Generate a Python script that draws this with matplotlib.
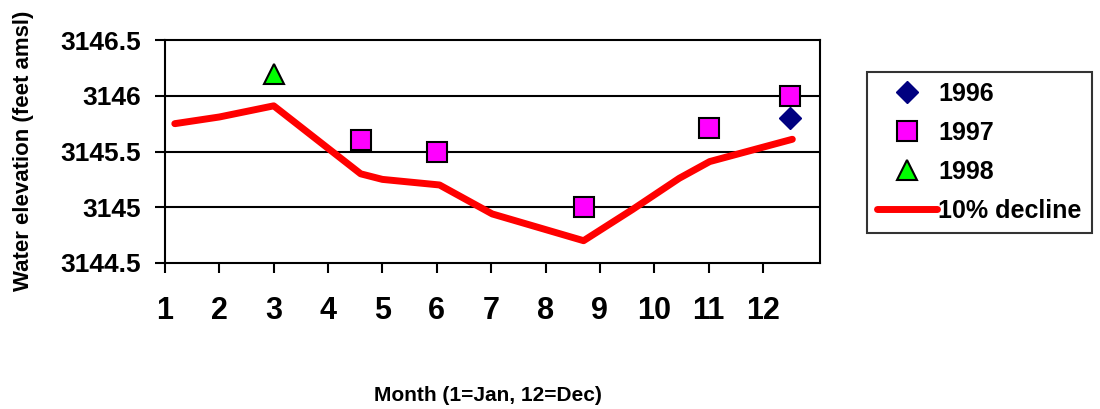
import matplotlib.pyplot as plt

# 10% decline curve (month, elevation)
decline_month = [1.18, 2.0, 3.0, 4.6, 5.0, 6.05, 7.02, 8.7, 9.6, 10.46, 11.02, 12.54]
decline_elev = [3145.75, 3145.81, 3145.91, 3145.30, 3145.25, 3145.20, 3144.94,
                3144.70, 3144.98, 3145.26, 3145.41, 3145.61]

# observations
month_1996 = [12.5]
elev_1996 = [3145.80]
month_1997 = [4.6, 6.0, 8.7, 11.0, 12.5]
elev_1997 = [3145.60, 3145.50, 3145.00, 3145.71, 3146.00]
month_1998 = [3.0]
elev_1998 = [3146.20]

xticks = list(range(1, 13))
yticks = [3144.5, 3145, 3145.5, 3146, 3146.5]
ytick_labels = ['3144.5', '3145', '3145.5', '3146', '3146.5']

plt.rcParams['font.family'] = ['Liberation Sans', 'DejaVu Sans']
plt.rcParams['font.weight'] = 'bold'

fig = plt.figure(figsize=(11, 4.09), dpi=100)
ax = fig.add_axes([0.15, 0.357, 0.5955, 0.545])

for y in [3145, 3145.5, 3146]:
	ax.axhline(y, color='black', lw=1.5, zorder=1)

ax.plot(month_1996, elev_1996, 'D', color='#000080', ms=11, mec='#000080',
	ls='none', label='1996', zorder=4)
ax.plot(month_1997, elev_1997, 's', color='#FF00FF', ms=14, mec='black',
	mew=1.5, ls='none', label='1997', zorder=4)
ax.plot(month_1998, elev_1998, '^', color='#00FF00', ms=14, mec='black',
	mew=1.5, ls='none', label='1998', zorder=4)
ax.plot(decline_month, decline_elev, color='#FF0000', lw=5, label='10% decline',
	zorder=3, solid_capstyle='round')

ax.set_xlim(1, 13.05)
ax.set_ylim(3144.5, 3146.5)
ax.set_xticks(xticks)
ax.set_xticklabels([str(t) for t in xticks], fontsize=22, fontweight='bold')
ax.set_yticks(yticks)
ax.set_yticklabels(ytick_labels, fontsize=19, fontweight='bold')
ax.tick_params(axis='both', direction='out', length=7, width=1.5, color='black')
ax.tick_params(axis='x', pad=17)
ax.tick_params(axis='y', pad=10)
for s in ax.spines.values():
	s.set_linewidth(1.5)
	s.set_color('black')

fig.text(0.021, 0.631, 'Water elevation (feet amsl)', rotation=90, ha='center',
	va='center', fontsize=16, fontweight='bold')
fig.text(0.444, 0.032, 'Month (1=Jan, 12=Dec)', ha='center', va='center',
	fontsize=15, fontweight='bold')

leg = fig.legend(loc='upper left', bbox_to_anchor=(867 / 1100, 1 - 72 / 409),
	fontsize=18, frameon=True, fancybox=False, handlelength=2.4,
	handletextpad=0.05, borderpad=0.4, labelspacing=0.6, borderaxespad=0)
leg.get_frame().set_edgecolor('black')
leg.get_frame().set_linewidth(1.5)
for t in leg.get_texts():
	t.set_fontweight('bold')

fig.savefig('out.png', dpi=100)
